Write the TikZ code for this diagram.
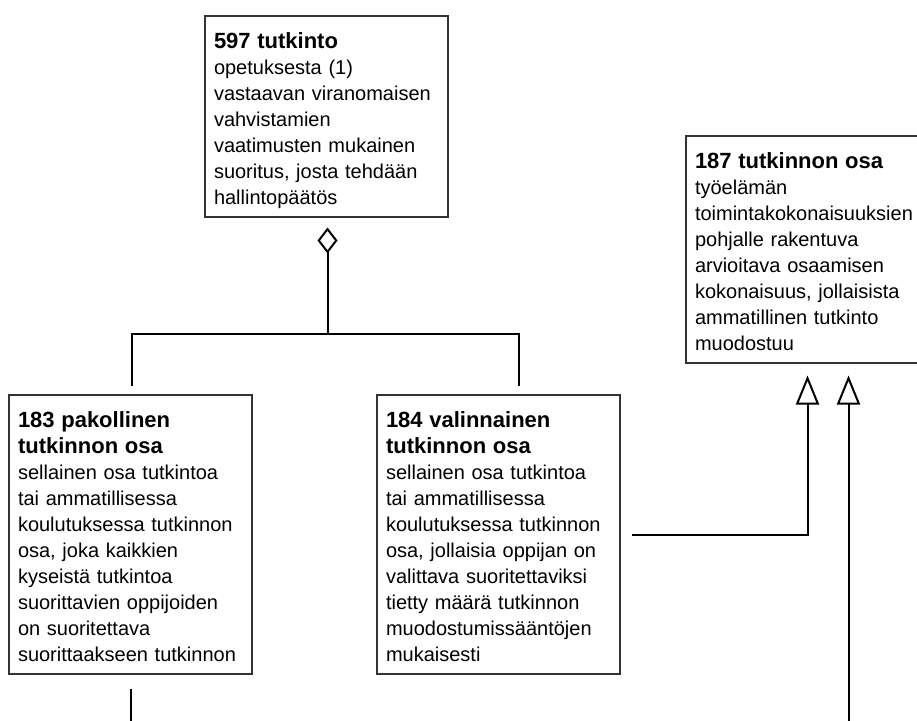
\documentclass[tikz,border=0pt]{standalone}
\usepackage{fontspec}
\setmainfont{Liberation Sans}
\usetikzlibrary{calc,arrows.meta}

\newcommand{\otsikko}[1]{{\fontsize{22}{26}\selectfont\bfseries #1}}

\begin{document}
\begin{tikzpicture}[x=1pt,y=-1pt]
        \tikzstyle{every node}=[draw=black!80,line width=2pt,rectangle,anchor=north west,
            text width=225pt,inner xsep=9pt,inner ysep=7.5pt,align=left,
            font=\fontsize{20}{26}\selectfont,
            execute at begin node={\rule{0pt}{25pt}},
            execute at end node={\rule[-4.5pt]{0pt}{0pt}}]
        \tikzstyle{yhteys}=[draw=black,line width=2pt]
        \useasboundingbox (0,0) rectangle (917,720);
        \clip (0,0) rectangle (917,720);

            \node (T) at (204,15) {\otsikko{597 tutkinto}\\opetuksesta (1)\\vastaavan viranomaisen\\vahvistamien\\vaatimusten mukainen\\suoritus, josta tehdään\\hallintopäätös};
            \node (O) at ($(T.north west)+(481,120)$) {\otsikko{187 tutkinnon osa}\\työelämän\\toimintakokonaisuuksien\\pohjalle rakentuva\\arvioitava osaamisen\\kokonaisuus, jollaisista\\ammatillinen tutkinto\\muodostuu};
            \node (P1) at (8,394) {\otsikko{183 pakollinen}\\\otsikko{tutkinnon osa}\\sellainen osa tutkintoa\\tai ammatillisessa\\koulutuksessa tutkinnon\\osa, joka kaikkien\\kyseistä tutkintoa\\suorittavien oppijoiden\\on suoritettava\\suorittaakseen tutkinnon};
            \node (P2) at ($(P1.north west)+(368,0)$) {\otsikko{184 valinnainen}\\\otsikko{tutkinnon osa}\\sellainen osa tutkintoa\\tai ammatillisessa\\koulutuksessa tutkinnon\\osa, jollaisia oppijan on\\valittava suoritettaviksi\\tietty määrä tutkinnon\\muodostumissääntöjen\\mukaisesti};

            \coordinate (J) at ($(T.south)+(1,116)$);

            \draw[yhteys,{Diamond[open,width=20pt,length=26pt]}-] ($(T.south)+(1,10)$) -- (J);
            \draw[yhteys] ($(P1.north)+(1,-8)$) |- (J) -| ($(P2.north)+(20,-8)$);

            \draw[yhteys,-{Triangle[open,width=23pt,length=29pt]}] ($(P2.east)+(11,1)$) -| ($(O.south)+(0,12)$);
            \draw[yhteys,-{Triangle[open,width=23pt,length=29pt]}] ($(P1.south)+(0,14)$) -- ++(0,80) -| ($(O.south)+(41,12)$);

        \end{tikzpicture}
\end{document}
